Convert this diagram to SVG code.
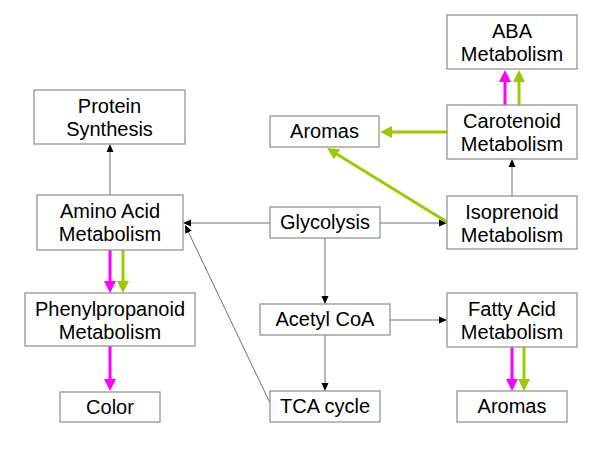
<svg xmlns="http://www.w3.org/2000/svg" width="600" height="450" viewBox="0 0 600 450">
<style>
.box{fill:#fff;stroke:#8c8c8c;stroke-width:1.2}
.t{font-family:"Liberation Sans",Arial,sans-serif;font-size:20px;fill:#000;text-anchor:middle}
.thin{stroke:#6e6e6e;stroke-width:1;fill:none}
.mag{stroke:#ff00ff;stroke-width:3;fill:none}
.grn{stroke:#99cc00;stroke-width:3;fill:none}
</style>
<defs>
<marker id="ab" markerUnits="userSpaceOnUse" markerWidth="8" markerHeight="8" refX="2" refY="3.5" orient="auto" viewBox="0 0 8 7">
<path d="M0,0 L8,3.5 L0,7 z" fill="#000"/>
</marker>
<marker id="am" markerUnits="userSpaceOnUse" markerWidth="12" markerHeight="12" refX="4" refY="6" orient="auto" viewBox="0 0 12 12">
<path d="M0,0 L12,6 L0,12 z" fill="#ff00ff"/>
</marker>
<marker id="ag" markerUnits="userSpaceOnUse" markerWidth="12" markerHeight="12" refX="4" refY="6" orient="auto" viewBox="0 0 12 12">
<path d="M0,0 L12,6 L0,12 z" fill="#99cc00"/>
</marker>
</defs>
<rect width="600" height="450" fill="#fff"/>
<g id="connectors">
<line class="thin" x1="110" y1="195" x2="110" y2="150" marker-end="url(#ab)"/>
<line class="thin" x1="270" y1="223" x2="189" y2="223" marker-end="url(#ab)"/>
<line class="thin" x1="380" y1="223" x2="441" y2="223" marker-end="url(#ab)"/>
<line class="thin" x1="325" y1="238" x2="325" y2="298" marker-end="url(#ab)"/>
<line class="thin" x1="390" y1="320" x2="441" y2="320" marker-end="url(#ab)"/>
<line class="thin" x1="325" y1="335" x2="325" y2="385" marker-end="url(#ab)"/>
<line class="thin" x1="270" y1="403" x2="187.6" y2="230.4" marker-end="url(#ab)"/>
<line class="thin" x1="512" y1="196" x2="512" y2="165" marker-end="url(#ab)"/>
<line class="grn" x1="447" y1="132" x2="388" y2="132" marker-end="url(#ag)"/>
<line class="grn" x1="447" y1="222" x2="333.8" y2="152.2" marker-end="url(#ag)"/>
<line class="mag" x1="505" y1="105" x2="505" y2="78" marker-end="url(#am)"/>
<line class="grn" x1="519" y1="105" x2="519" y2="78" marker-end="url(#ag)"/>
<line class="mag" x1="110" y1="250" x2="110" y2="285" marker-end="url(#am)"/>
<line class="grn" x1="123" y1="250" x2="123" y2="285" marker-end="url(#ag)"/>
<line class="mag" x1="110" y1="346" x2="110" y2="383" marker-end="url(#am)"/>
<line class="mag" x1="512" y1="347" x2="512" y2="383" marker-end="url(#am)"/>
<line class="grn" x1="524" y1="347" x2="524" y2="383" marker-end="url(#ag)"/>
</g>
<g id="protein"><rect class="box" x="34" y="90" width="151" height="54"/><text class="t" x="109.5" y="113">Protein</text><text class="t" x="109.5" y="136">Synthesis</text></g>
<g id="amino"><rect class="box" x="37" y="195" width="146" height="55"/><text class="t" x="110" y="218">Amino Acid</text><text class="t" x="110" y="241">Metabolism</text></g>
<g id="phenyl"><rect class="box" x="25" y="293" width="170" height="53"/><text class="t" x="110" y="315.5">Phenylpropanoid</text><text class="t" x="110" y="338.5">Metabolism</text></g>
<g id="color"><rect class="box" x="60" y="392" width="100" height="30"/><text class="t" x="110" y="414">Color</text></g>
<g id="glycolysis"><rect class="box" x="270" y="207" width="110" height="31"/><text class="t" x="325" y="229">Glycolysis</text></g>
<g id="acetyl"><rect class="box" x="260" y="304" width="130" height="31"/><text class="t" x="325" y="326">Acetyl CoA</text></g>
<g id="tca"><rect class="box" x="270" y="391" width="110" height="31"/><text class="t" x="325" y="413">TCA cycle</text></g>
<g id="aromas-top"><rect class="box" x="270" y="116" width="109" height="31"/><text class="t" x="324.5" y="138">Aromas</text></g>
<g id="aba"><rect class="box" x="447" y="15" width="130" height="54"/><text class="t" x="512" y="38">ABA</text><text class="t" x="512" y="61">Metabolism</text></g>
<g id="carotenoid"><rect class="box" x="447" y="105" width="130" height="54"/><text class="t" x="512" y="128">Carotenoid</text><text class="t" x="512" y="151">Metabolism</text></g>
<g id="isoprenoid"><rect class="box" x="447" y="196" width="130" height="53"/><text class="t" x="512" y="218.5">Isoprenoid</text><text class="t" x="512" y="241.5">Metabolism</text></g>
<g id="fatty"><rect class="box" x="447" y="293" width="130" height="54"/><text class="t" x="512" y="316">Fatty Acid</text><text class="t" x="512" y="339">Metabolism</text></g>
<g id="aromas-bottom"><rect class="box" x="457" y="391" width="110" height="31"/><text class="t" x="512" y="413">Aromas</text></g>
</svg>
